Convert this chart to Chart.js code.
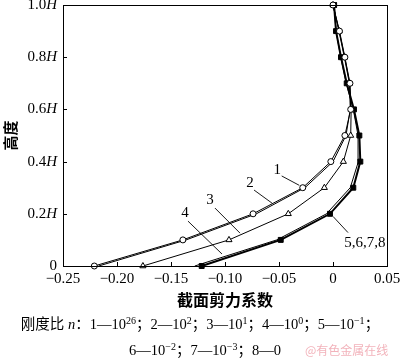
<!DOCTYPE html>
<html><head><meta charset="utf-8">
<script src="https://cdn.jsdelivr.net/npm/chart.js@4/dist/chart.umd.min.js"></script>
<style>
html,body{margin:0;padding:0;background:#fff;}
#wrap{position:absolute;left:0;top:0;width:400px;height:359px;}
.leg{position:absolute;left:0;width:400px;text-align:center;font-family:"Liberation Serif","Noto Sans CJK SC",serif;font-size:14.5px;color:#000;white-space:nowrap;}
.leg sup{font-size:10px;vertical-align:5px;line-height:0;}
.wm{position:absolute;left:305px;top:341px;font-family:"Noto Sans CJK SC",sans-serif;font-size:12px;color:#f2b3bb;}
</style></head>
<body>
<div id="wrap"><canvas id="c" width="400" height="359"></canvas></div>
<div class="leg" style="top:312px;">刚度比 <i>n</i>：1—10<sup>26</sup>；2—10<sup>2</sup>；3—10<sup>1</sup>；4—10<sup>0</sup>；5—10<sup>−1</sup>；</div>
<div class="leg" style="top:338px;left:5px;">6—10<sup>−2</sup>；7—10<sup>−3</sup>；8—0</div>
<div class="wm">@有色金属在线</div>
<script>
// Heights (fraction of H)
const heights = [0, 0.1, 0.2, 0.3, 0.4, 0.5, 0.6, 0.7, 0.8, 0.9, 1.0];
// Section shear coefficient for each stiffness ratio
const s1 = [-0.221, -0.139, -0.074, -0.028, -0.002, 0.011, 0.0164, 0.0157, 0.011, 0.006, 0];
const s2 = [-0.217, -0.136, -0.071, -0.026, 0.000, 0.012, 0.0160, 0.0152, 0.0105, 0.0055, 0];
const s3 = [-0.176, -0.0963, -0.0414, -0.008, 0.0096, 0.0164, 0.0168, 0.0155, 0.0108, 0.0058, 0];
const s4 = [-0.128, -0.052, -0.006, 0.016, 0.0235, 0.0232, 0.0188, 0.0122, 0.0072, 0.0028, 0.001];
const s5to8 = [-0.1216, -0.0484, -0.0028, 0.0188, 0.0253, 0.0244, 0.0194, 0.0127, 0.0074, 0.0028, 0.001];
// Tick labels
const xTicks = [-0.25, -0.20, -0.15, -0.10, -0.05, 0, 0.05];
const xTickLabels = ["−0.25", "−0.20", "−0.15", "−0.10", "−0.05", "0", "0.05"];
const yTicks = [0, 0.2, 0.4, 0.6, 0.8, 1.0];
const yTickLabels = ["0", "0.2", "0.4", "0.6", "0.8", "1.0"];
const xTitle = "截面剪力系数";
const yTitle = "高度";
const curveLabels = [
  {text: "1", x: -0.0516, y: 0.368, lx1: -0.0475, ly1: 0.345, lx2: -0.0312, ly2: 0.309},
  {text: "2", x: -0.0769, y: 0.318, lx1: -0.0731, ly1: 0.291, lx2: -0.0565, ly2: 0.241},
  {text: "3", x: -0.1139, y: 0.253, lx1: -0.1093, ly1: 0.222, lx2: -0.0861, ly2: 0.126},
  {text: "4", x: -0.137, y: 0.203, lx1: -0.1343, ly1: 0.172, lx2: -0.1028, ly2: 0.046},
  {text: "5,6,7,8", x: 0.0296, y: 0.088, lx1: 0.000, ly1: 0.190, lx2: 0.0139, ly2: 0.128}
];

const pts = arr => heights.map((h, i) => ({x: arr[i], y: h}));

const decor = {
  id: 'decor',
  afterDraw(chart) {
    const ctx = chart.ctx, a = chart.chartArea, xs = chart.scales.x, ys = chart.scales.y;
    ctx.save();
    ctx.strokeStyle = '#000'; ctx.lineWidth = 1;
    ctx.strokeRect(Math.round(a.left) + 0.5, Math.round(a.top) + 0.5, Math.round(a.right - a.left), Math.round(a.bottom - a.top));
    // ticks
    ctx.beginPath();
    xTicks.forEach(v => { const px = Math.round(xs.getPixelForValue(v)) + 0.5; ctx.moveTo(px, a.bottom); ctx.lineTo(px, a.bottom - 4); });
    yTicks.forEach(v => { const py = Math.round(ys.getPixelForValue(v)) + 0.5; ctx.moveTo(a.left, py); ctx.lineTo(a.left + 4, py); });
    ctx.stroke();
    ctx.fillStyle = '#000';
    // x tick labels
    ctx.font = '15px "Liberation Serif", serif';
    ctx.textAlign = 'center'; ctx.textBaseline = 'middle';
    xTicks.forEach((v, i) => ctx.fillText(xTickLabels[i], xs.getPixelForValue(v), a.bottom + 13));
    // y tick labels with italic H
    ctx.textBaseline = 'middle';
    yTicks.forEach((v, i) => {
      const py = ys.getPixelForValue(v);
      const right = a.left - 6;
      if (v === 0) {
        ctx.font = '15px "Liberation Serif", serif'; ctx.textAlign = 'right';
        ctx.fillText(yTickLabels[i], right, py);
      } else {
        ctx.font = 'italic 15px "Liberation Serif", serif';
        const wH = ctx.measureText('H').width;
        ctx.textAlign = 'right';
        ctx.fillText('H', right, py);
        ctx.font = '15px "Liberation Serif", serif';
        ctx.fillText(yTickLabels[i], right - wH, py);
      }
    });
    // axis titles
    ctx.font = 'bold 16px "Noto Sans CJK SC", sans-serif';
    ctx.textAlign = 'center'; ctx.textBaseline = 'middle';
    ctx.fillText(xTitle, (a.left + a.right) / 2, a.bottom + 34);
    ctx.save();
    ctx.translate(10, (a.top + a.bottom) / 2);
    ctx.rotate(-Math.PI / 2);
    ctx.font = 'bold 15px "Noto Sans CJK SC", sans-serif';
    ctx.fillText(yTitle, 0, 0);
    ctx.restore();
    // curve labels with leaders
    ctx.font = '15px "Liberation Serif", serif';
    ctx.lineWidth = 0.9;
    curveLabels.forEach(l => {
      ctx.fillText(l.text, xs.getPixelForValue(l.x), ys.getPixelForValue(l.y));
      ctx.beginPath();
      ctx.moveTo(xs.getPixelForValue(l.lx1), ys.getPixelForValue(l.ly1));
      ctx.lineTo(xs.getPixelForValue(l.lx2), ys.getPixelForValue(l.ly2));
      ctx.stroke();
    });
    ctx.restore();
  }
};

const base = {showLine: true, borderColor: '#000', clip: false, pointBorderColor: '#000', pointBorderWidth: 1, tension: 0};
new Chart(document.getElementById('c'), {
  type: 'scatter',
  data: {
    datasets: [
      Object.assign({}, base, {label: '1', data: pts(s1), borderWidth: 1, pointStyle: 'circle', pointRadius: 3, pointBackgroundColor: '#fff'}),
      Object.assign({}, base, {label: '2', data: pts(s2), borderWidth: 1, pointRadius: 0}),
      Object.assign({}, base, {label: '3', data: pts(s3), borderWidth: 1, pointStyle: 'triangle', pointRadius: 3.5, pointBackgroundColor: '#fff'}),
      Object.assign({}, base, {label: '4', data: pts(s4), borderWidth: 1, pointStyle: 'rect', pointBackgroundColor: '#fff',
        pointRadius: c => (c.dataIndex === heights.length - 1 ? 3.5 : 0)}),
      Object.assign({}, base, {label: '5,6,7,8', data: pts(s5to8), borderWidth: 2, pointStyle: 'rect', pointRadius: 3.5, pointBackgroundColor: '#000'})
    ]
  },
  options: {
    responsive: false, animation: false, devicePixelRatio: 1,
    layout: {padding: {top: 5, right: 13, left: 0, bottom: 0}},
    plugins: {legend: {display: false}, tooltip: {enabled: false}},
    scales: {
      x: {type: 'linear', min: -0.25, max: 0.05, ticks: {display: false}, grid: {display: false}, border: {display: false},
          afterFit(s) { s.height = 359 - 266 - 0; }},
      y: {type: 'linear', min: 0, max: 1, ticks: {display: false}, grid: {display: false}, border: {display: false},
          afterFit(s) { s.width = 63; }}
    }
  },
  plugins: [decor]
});
</script>
</body></html>
